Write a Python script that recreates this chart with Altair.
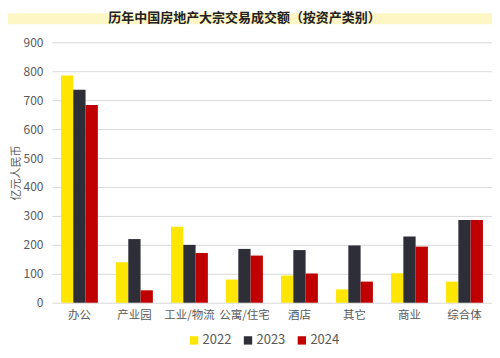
import altair as alt
import pandas as pd

title_text = ["历年中国房地产大宗交易成交额（按资产类别）"]
categories = ["办公", "产业园", "工业/物流", "公寓/住宅", "酒店", "其它", "商业", "综合体"]
years = ["2022", "2023", "2024"]
v2022 = [785, 140, 263, 80, 94, 46, 102, 73]
v2023 = [736, 220, 200, 186, 182, 198, 229, 286]
v2024 = [683, 43, 172, 163, 101, 73, 194, 286]
colors = ["#FFE600", "#2E2E38", "#C00000"]

rows = []
for y, vals in zip(years, [v2022, v2023, v2024]):
    for c, v in zip(categories, vals):
        rows.append({"类别": c, "年份": y, "金额": v})
df = pd.DataFrame(rows)

FONT = "Noto Sans CJK SC"

band = alt.Chart(pd.DataFrame({"a": [0]})).mark_rect(
    color="#FFF6C6", clip=False
).encode(
    x=alt.value(-60), x2=alt.value(448),
    y=alt.value(-29), y2=alt.value(-18),
)

title = alt.Chart(pd.DataFrame({"t": title_text})).mark_text(
    font=FONT, fontSize=13, fontWeight="bold", color="#222222",
    align="center", baseline="middle", clip=False
).encode(
    text="t:N", x=alt.value(193), y=alt.value(-24),
)

bars = alt.Chart(df).mark_bar(clip=False).encode(
    x=alt.X("类别:N", sort=categories, title=None,
            scale=alt.Scale(paddingInner=0.33, paddingOuter=0.165),
            axis=alt.Axis(labelAngle=0, labelFontSize=11.5, labelColor="#595959",
                          labelPadding=7, ticks=False, domain=False, grid=False,
                          labelFont=FONT)),
    xOffset=alt.XOffset("年份:N", sort=years),
    y=alt.Y("金额:Q", title="亿元人民币",
            scale=alt.Scale(domain=[0, 900], nice=False),
            axis=alt.Axis(values=list(range(0, 901, 100)), labelFontSize=12,
                          labelColor="#595959", labelPadding=9, ticks=False,
                          domain=False, gridColor="#D9D9D9", gridWidth=1,
                          titleFontSize=11, titleColor="#595959",
                          titleFontWeight="normal", titlePadding=1,
                          titleFont=FONT, labelFont=FONT)),
    color=alt.Color("年份:N", sort=years,
                    scale=alt.Scale(domain=years, range=colors),
                    legend=alt.Legend(orient="none", direction="horizontal",
                                      legendX=136, legendY=292, title=None,
                                      symbolType="square", symbolSize=70,
                                      symbolStrokeWidth=0,
                                      labelFontSize=13, labelColor="#595959",
                                      labelFont=FONT, columnPadding=10,
                                      labelOffset=2)),
)

chart = alt.layer(band, title, bars).properties(
    width=441,
    height=261,
    autosize=alt.AutoSizeParams(type="none"),
    padding={"left": 44, "top": 34, "right": 0, "bottom": 47},
).configure_view(stroke=None)

chart.save("out.html", embed_options={"renderer": "svg", "actions": False})
